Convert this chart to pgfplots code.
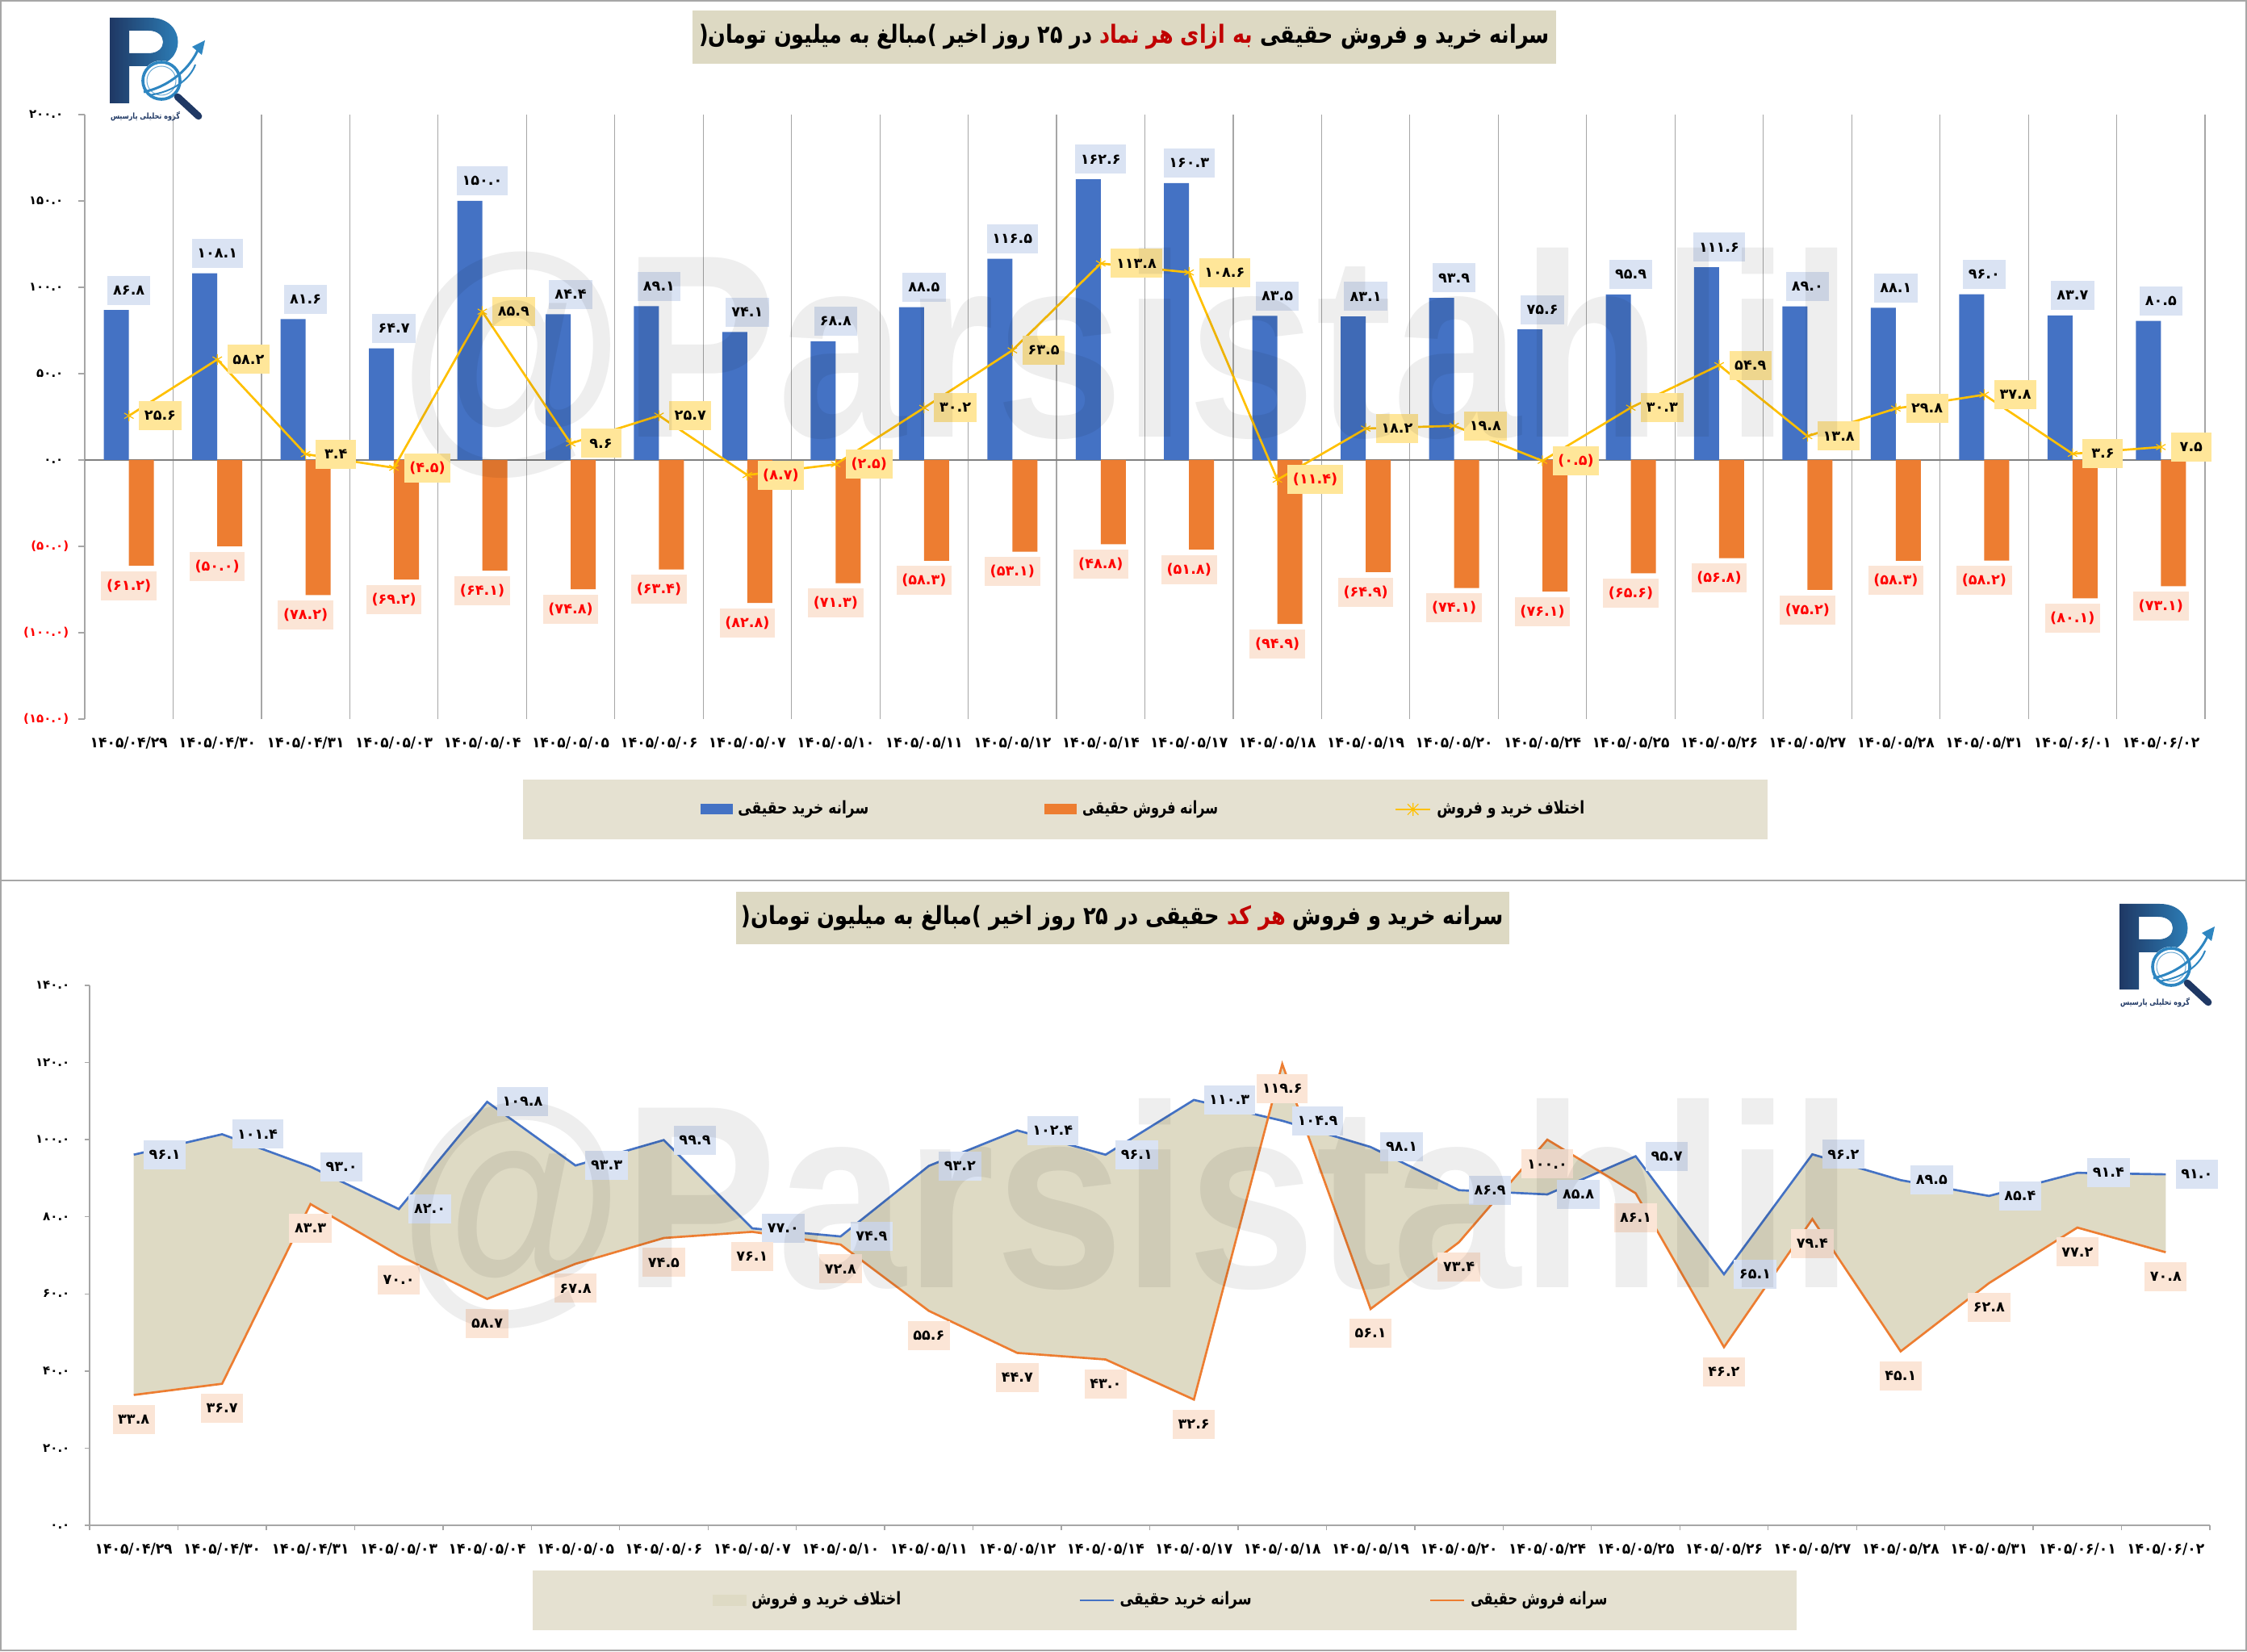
\documentclass[border=0pt]{standalone}
\usepackage{fontspec}
\usepackage{graphicx}
\usepackage{pgfplots}
\pgfplotsset{compat=1.18}
\TeXXeTstate=1
\newfontfamily\fa[Script=Arabic]{DejaVu Sans}
\newfontfamily\wmfont{Liberation Sans}
\definecolor{cblue}{RGB}{68,114,196}
\definecolor{corange}{RGB}{237,125,49}
\definecolor{cyel}{RGB}{255,192,0}
\definecolor{lblue}{RGB}{218,227,243}
\definecolor{lpeach}{RGB}{251,229,214}
\definecolor{lyel}{RGB}{255,230,153}
\definecolor{tbg}{RGB}{221,217,195}
\definecolor{lbg}{RGB}{229,225,209}
\definecolor{areac}{RGB}{222,218,196}
\definecolor{gridc}{RGB}{166,166,166}
\definecolor{navy}{RGB}{31,56,100}
\definecolor{lnavy}{RGB}{46,134,193}
\definecolor{dred}{RGB}{192,0,0}
\definecolor{nred}{RGB}{255,0,0}
% Persian digits from ASCII digits
\def\fdchar#1{\ifnum`#1>47 \ifnum`#1<58 \char\numexpr`#1+1728\relax\else#1\fi\else#1\fi}
\def\fdloop#1{\ifx#1\relax\else\fdchar#1\expandafter\fdloop\fi}
\protected\def\fd#1{\fdloop#1\relax}
\protected\def\fdx#1{\fdxi#1\relax}
\def\fdxi#1#2\relax{\ifx-#1\textcolor{nred}{(\fd{#2})}\else\fd{#1#2}\fi}
\newcommand\neglab[1]{\textcolor{nred}{(\fd{#1})}}
\newcommand\poslab[1]{\fd{#1}\phantom{)}}
\newcommand\DT[1]{\resizebox{28.8pt}{\height}{\fd{#1}}}
\newcommand\LEG[3]{\makebox[#1][l]{\resizebox{#2}{\height}{#3}}}
\newcommand\fLb{\fa\bfseries\fontsize{5.3}{6}\selectfont}
\newcommand\fTk{\fa\bfseries\fontsize{4.5}{5}\selectfont}
\newcommand\fDt{\fa\bfseries\fontsize{5.5}{6}\selectfont}
\newcommand\fLg{\fa\bfseries\fontsize{6.5}{7}\selectfont}
\newcommand\fTtl{\fa\bfseries\fontsize{9.3}{10}\selectfont}
\pgfplotsset{
  blueleg/.style={legend image code/.code={\fill[cblue] (0pt,-1.95pt) rectangle (12pt,1.95pt);}},
  orangeleg/.style={legend image code/.code={\fill[corange] (0pt,-1.95pt) rectangle (12pt,1.95pt);}},
  yelleg/.style={legend image code/.code={\draw[cyel, line width=0.8pt] (0pt,0pt) -- (13pt,0pt); \draw[cyel, line width=0.35pt] (4.5pt,-2pt) -- (8.5pt,2pt) (4.5pt,2pt) -- (8.5pt,-2pt) (6.5pt,-2.4pt) -- (6.5pt,2.4pt);}},
  arealeg/.style={legend image code/.code={\fill[areac] (0pt,-1.95pt) rectangle (12pt,1.95pt);}},
  bluelineleg/.style={legend image code/.code={\draw[cblue, line width=0.8pt] (0pt,0pt) -- (12.6pt,0pt);}},
  orangelineleg/.style={legend image code/.code={\draw[corange, line width=0.8pt] (0pt,0pt) -- (12.6pt,0pt);}},
}
\newcommand\drawlogo[2]{%
\begin{scope}[shift={(#1,#2)}, x=0.3pt, y=-0.3pt]
 \shade[left color=navy, right color=lnavy, even odd rule] (0,0) -- (50,0) .. controls (96,0) and (96,60) .. (50,60) -- (24,60) -- (24,106) -- (0,106) -- cycle (24,16) -- (48,16) .. controls (72,16) and (72,44) .. (48,44) -- (24,44) -- cycle;
 \fill[white] (64,78) circle (25);
 \draw[lnavy, line width=1.1pt] (64,78) circle (23);
 \draw[lnavy!70, line width=0.3pt] (64,78) circle (18);
 \draw[navy, line width=2.6pt, line cap=round] (84,98) -- (110,122);
 \draw[lnavy, line width=0.9pt] (42,92) .. controls (75,85) and (100,62) .. (110,38);
 \draw[lnavy, line width=0.6pt] (48,96) .. controls (80,92) and (100,75) .. (106,58);
 \fill[lnavy] (118,28) -- (102,36) -- (114,46) -- cycle;
 \node[font=\fa\bfseries\fontsize{3}{3}\selectfont, text=navy, inner sep=0pt, anchor=north] at (44,116) {\resizebox{25.8pt}{\height}{\beginR گروه تحلیلی پارسیس\endR}};
\end{scope}}
\begin{document}
\begin{tikzpicture}
\useasboundingbox (0,0) rectangle (835.2pt,613.8pt);
\fill[white] (0,0) rectangle (835.2pt,613.8pt);
% ---------------- TOP CHART ----------------
\begin{axis}[
  at={(31.5pt,346.5pt)}, anchor=south west,
  scale only axis, width=788.1pt, height=224.7pt,
  xmin=-0.5, xmax=23.5, ymin=-150, ymax=200,
  axis line style={draw=none},
  xtick={-0.5,0.5,...,23.5}, xticklabels={},
  xmajorgrids, major grid style={gridc, line width=0.35pt},
  major x tick style={draw=none},
  extra x ticks={0,1,...,23},
  extra x tick labels={\DT{1405/04/29},\DT{1405/04/30},\DT{1405/04/31},\DT{1405/05/03},\DT{1405/05/04},\DT{1405/05/05},\DT{1405/05/06},\DT{1405/05/07},\DT{1405/05/10},\DT{1405/05/11},\DT{1405/05/12},\DT{1405/05/14},\DT{1405/05/17},\DT{1405/05/18},\DT{1405/05/19},\DT{1405/05/20},\DT{1405/05/24},\DT{1405/05/25},\DT{1405/05/26},\DT{1405/05/27},\DT{1405/05/28},\DT{1405/05/31},\DT{1405/06/01},\DT{1405/06/02}},
  extra x tick style={grid=none, major tick length=0pt},
  ytick={-150,-100,...,200},
  yticklabels={\neglab{150.0},\neglab{100.0},\neglab{50.0},\poslab{0.0},\poslab{50.0},\poslab{100.0},\poslab{150.0},\poslab{200.0}},
  ytick pos=left, tick align=outside, major tick length=2.4pt,
  tick style={gridc, line width=0.35pt},
  extra y ticks={0}, extra y tick labels={},
  extra y tick style={grid=major, major grid style={gray, line width=0.6pt}},
  yticklabel style={font=\fTk},
  xticklabel style={font=\fDt, yshift=-3pt},
  clip=false,
  legend style={at={(axis description cs:0.5002,-0.1495)}, anchor=center, fill=lbg, draw=none,
    legend columns=3, font=\fLg, inner xsep=66pt, inner ysep=6pt,
    /tikz/every even column/.append style={column sep=0pt}},
  legend cell align=left,
]
\addplot[ybar, bar width=9.3pt, bar shift=-4.65pt, fill=cblue, draw=none, blueleg,
  point meta=explicit symbolic,
  nodes near coords={\expandafter\fd\expandafter{\pgfplotspointmeta}},
  every node near coord/.append style={anchor=south, yshift=1.8pt, fill=lblue, text=black, font=\fLb, inner xsep=2pt, inner ysep=0pt, minimum height=10.8pt, minimum width=16pt}]
coordinates {(0,86.8)[86.8] (1,108.1)[108.1] (2,81.6)[81.6] (3,64.7)[64.7] (4,150.0)[150.0] (5,84.4)[84.4] (6,89.1)[89.1] (7,74.1)[74.1] (8,68.8)[68.8] (9,88.5)[88.5] (10,116.5)[116.5] (11,162.6)[162.6] (12,160.3)[160.3] (13,83.5)[83.5] (14,83.1)[83.1] (15,93.9)[93.9] (16,75.6)[75.6] (17,95.9)[95.9] (18,111.6)[111.6] (19,89.0)[89.0] (20,88.1)[88.1] (21,96.0)[96.0] (22,83.7)[83.7] (23,80.5)[80.5]};
\addlegendentry{\LEG{112pt}{48.6pt}{\beginR سرانه خرید حقیقی\endR}}
\addplot[ybar, bar width=9.3pt, bar shift=4.65pt, fill=corange, draw=none, orangeleg,
  point meta=explicit symbolic,
  nodes near coords={(\expandafter\fd\expandafter{\pgfplotspointmeta})},
  every node near coord/.append style={anchor=north, yshift=-1.8pt, fill=lpeach, text=nred, font=\fLb, inner xsep=2pt, inner ysep=0pt, minimum height=10.8pt, minimum width=16pt}]
coordinates {(0,-61.2)[61.2] (1,-50.0)[50.0] (2,-78.2)[78.2] (3,-69.2)[69.2] (4,-64.1)[64.1] (5,-74.8)[74.8] (6,-63.4)[63.4] (7,-82.8)[82.8] (8,-71.3)[71.3] (9,-58.3)[58.3] (10,-53.1)[53.1] (11,-48.8)[48.8] (12,-51.8)[51.8] (13,-94.9)[94.9] (14,-64.9)[64.9] (15,-74.1)[74.1] (16,-76.1)[76.1] (17,-65.6)[65.6] (18,-56.8)[56.8] (19,-75.2)[75.2] (20,-58.3)[58.3] (21,-58.2)[58.2] (22,-80.1)[80.1] (23,-73.1)[73.1]};
\addlegendentry{\LEG{114pt}{50.4pt}{\beginR سرانه فروش حقیقی\endR}}
\addplot[color=cyel, line width=0.8pt, mark=asterisk, mark size=2pt, mark options={line width=0.35pt}, yelleg,
  point meta=explicit symbolic,
  nodes near coords={\expandafter\fdx\expandafter{\pgfplotspointmeta}},
  every node near coord/.append style={anchor=west, xshift=3.6pt, fill=lyel, text=black, font=\fLb, inner xsep=2pt, inner ysep=0pt, minimum height=10.8pt, minimum width=15pt}]
coordinates {(0,25.6)[25.6] (1,58.2)[58.2] (2,3.4)[3.4] (3,-4.5)[-4.5] (4,85.9)[85.9] (5,9.6)[9.6] (6,25.7)[25.7] (7,-8.7)[-8.7] (8,-2.5)[-2.5] (9,30.2)[30.2] (10,63.5)[63.5] (11,113.8)[113.8] (12,108.6)[108.6] (13,-11.4)[-11.4] (14,18.2)[18.2] (15,19.8)[19.8] (16,-0.5)[-0.5] (17,30.3)[30.3] (18,54.9)[54.9] (19,13.8)[13.8] (20,29.8)[29.8] (21,37.8)[37.8] (22,3.6)[3.6] (23,7.5)[7.5]};
\addlegendentry{\LEG{55pt}{54.9pt}{\beginR اختلاف خرید و فروش\endR}}
\end{axis}
% ---------------- BOTTOM CHART ----------------
\begin{axis}[
  at={(33.3pt,46.8pt)}, anchor=south west,
  scale only axis, width=788.1pt, height=200.7pt,
  xmin=-0.5, xmax=23.5, ymin=0, ymax=140,
  axis x line*=bottom, axis y line*=left,
  axis line style={gridc, line width=0.5pt},
  xtick={-0.5,0.5,...,23.5}, xticklabels={},
  extra x ticks={0,1,...,23},
  extra x tick labels={\DT{1405/04/29},\DT{1405/04/30},\DT{1405/04/31},\DT{1405/05/03},\DT{1405/05/04},\DT{1405/05/05},\DT{1405/05/06},\DT{1405/05/07},\DT{1405/05/10},\DT{1405/05/11},\DT{1405/05/12},\DT{1405/05/14},\DT{1405/05/17},\DT{1405/05/18},\DT{1405/05/19},\DT{1405/05/20},\DT{1405/05/24},\DT{1405/05/25},\DT{1405/05/26},\DT{1405/05/27},\DT{1405/05/28},\DT{1405/05/31},\DT{1405/06/01},\DT{1405/06/02}},
  extra x tick style={major tick length=0pt},
  ytick={0,20,...,140},
  yticklabels={\poslab{0.0},\poslab{20.0},\poslab{40.0},\poslab{60.0},\poslab{80.0},\poslab{100.0},\poslab{120.0},\poslab{140.0}},
  tick align=outside, major tick length=1.8pt,
  tick style={gridc, line width=0.4pt},
  yticklabel style={font=\fTk},
  xticklabel style={font=\fDt, yshift=-3pt},
  clip=false,
  legend style={at={(axis description cs:0.5070,-0.1390)}, anchor=center, fill=lbg, draw=none,
    legend columns=3, font=\fLg, inner xsep=67pt, inner ysep=6pt,
    /tikz/every even column/.append style={column sep=0pt}},
  legend cell align=left,
]
\addlegendimage{arealeg}
\addlegendentry{\LEG{119.5pt}{55.5pt}{\beginR اختلاف خرید و فروش\endR}}
\addlegendimage{bluelineleg}
\addlegendentry{\LEG{113pt}{48.9pt}{\beginR سرانه خرید حقیقی\endR}}
\addlegendimage{orangelineleg}
\addlegendentry{\LEG{52pt}{50.7pt}{\beginR سرانه فروش حقیقی\endR}}
% area between buy (forward) and sell (backward)
\addplot[forget plot, fill=areac, draw=none]
coordinates {(0,96.1) (1,101.4) (2,93.0) (3,82.0) (4,109.8) (5,93.3) (6,99.9) (7,77.0) (8,74.9) (9,93.2) (10,102.4) (11,96.1) (12,110.3) (13,104.9) (14,98.1) (15,86.9) (16,85.8) (17,95.7) (18,65.1) (19,96.2) (20,89.5) (21,85.4) (22,91.4) (23,91.0)
 (23,70.8) (22,77.2) (21,62.8) (20,45.1) (19,79.4) (18,46.2) (17,86.1) (16,100.0) (15,73.4) (14,56.1) (13,119.6) (12,32.6) (11,43.0) (10,44.7) (9,55.6) (8,72.8) (7,76.1) (6,74.5) (5,67.8) (4,58.7) (3,70.0) (2,83.3) (1,36.7) (0,33.8)} -- cycle;
\addplot[forget plot, color=cblue, line width=0.8pt,
  point meta=explicit symbolic,
  nodes near coords={\expandafter\fd\expandafter{\pgfplotspointmeta}},
  every node near coord/.append style={anchor=west, xshift=3.3pt, fill=lblue, text=black, font=\fLb, inner xsep=2pt, inner ysep=0pt, minimum height=10.8pt, minimum width=15pt}]
coordinates {(0,96.1)[96.1] (1,101.4)[101.4] (2,93.0)[93.0] (3,82.0)[82.0] (4,109.8)[109.8] (5,93.3)[93.3] (6,99.9)[99.9] (7,77.0)[77.0] (8,74.9)[74.9] (9,93.2)[93.2] (10,102.4)[102.4] (11,96.1)[96.1] (12,110.3)[110.3] (13,104.9)[104.9] (14,98.1)[98.1] (15,86.9)[86.9] (16,85.8)[85.8] (17,95.7)[95.7] (18,65.1)[65.1] (19,96.2)[96.2] (20,89.5)[89.5] (21,85.4)[85.4] (22,91.4)[91.4] (23,91.0)[91.0]};
\addplot[forget plot, color=corange, line width=0.8pt,
  point meta=explicit symbolic,
  nodes near coords={\expandafter\fd\expandafter{\pgfplotspointmeta}},
  every node near coord/.append style={anchor=north, yshift=-3.3pt, fill=lpeach, text=black, font=\fLb, inner xsep=2pt, inner ysep=0pt, minimum height=10.8pt, minimum width=15pt}]
coordinates {(0,33.8)[33.8] (1,36.7)[36.7] (2,83.3)[83.3] (3,70.0)[70.0] (4,58.7)[58.7] (5,67.8)[67.8] (6,74.5)[74.5] (7,76.1)[76.1] (8,72.8)[72.8] (9,55.6)[55.6] (10,44.7)[44.7] (11,43.0)[43.0] (12,32.6)[32.6] (13,119.6)[119.6] (14,56.1)[56.1] (15,73.4)[73.4] (16,100.0)[100.0] (17,86.1)[86.1] (18,46.2)[46.2] (19,79.4)[79.4] (20,45.1)[45.1] (21,62.8)[62.8] (22,77.2)[77.2] (23,70.8)[70.8]};
\end{axis}
% ---------------- titles (segments laid out left to right, each segment RTL) ----------------
\node[fill=tbg, minimum width=321pt, minimum height=19.8pt, inner sep=0pt, font=\fTtl, text=black] at (417.9pt,600pt)
  {\resizebox{316.2pt}{\height}{\beginR در \beginL ۲۵\endL{} روز اخیر )\kern0pt مبالغ به میلیون تومان\kern0pt(\endR\ \textcolor{dred}{\beginR به ازای هر نماد\endR}\ \beginR سرانه خرید و فروش حقیقی\endR}};
\node[fill=tbg, minimum width=287.4pt, minimum height=19.5pt, inner sep=0pt, font=\fTtl, text=black] at (417.3pt,272.55pt)
  {\resizebox{283.2pt}{\height}{\beginR حقیقی در \beginL ۲۵\endL{} روز اخیر )\kern0pt مبالغ به میلیون تومان\kern0pt(\endR\ \textcolor{dred}{\beginR هر کد\endR}\ \beginR سرانه خرید و فروش\endR}};
% ---------------- logos ----------------
\drawlogo{40.8pt}{607.2pt}
\drawlogo{787.8pt}{277.8pt}
% ---------------- watermarks ----------------
\node[anchor=base west, inner sep=0pt, text=black, text opacity=0.065, font=\wmfont\bfseries\fontsize{97}{97}\selectfont] at (148pt,451.2pt) {\resizebox{540.9pt}{\height}{@Parsistahlil}};
\node[anchor=base west, inner sep=0pt, text=black, text opacity=0.065, font=\wmfont\bfseries\fontsize{97}{97}\selectfont] at (148pt,135.3pt) {\resizebox{540.9pt}{\height}{@Parsistahlil}};
% ---------------- frames ----------------
\draw[gridc, line width=0.6pt] (0.3pt,0.3pt) rectangle (834.9pt,613.5pt);
\draw[gridc, line width=0.6pt] (0.3pt,286.4pt) -- (834.9pt,286.4pt);
\end{tikzpicture}
\end{document}
